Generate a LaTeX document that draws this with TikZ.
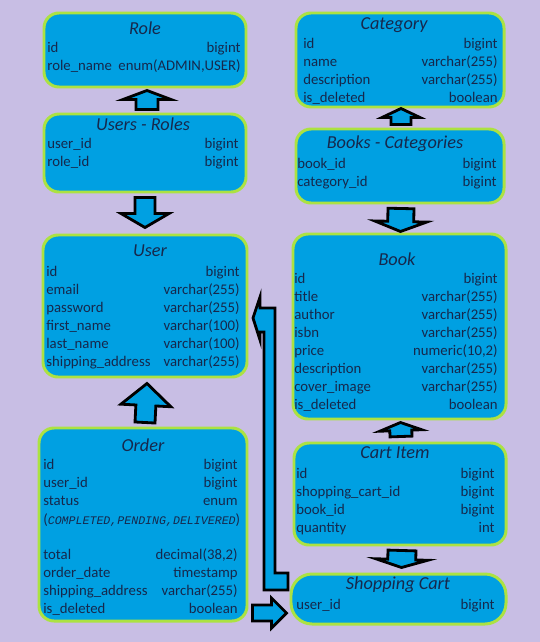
\documentclass[tikz,border=0pt]{standalone}
\usepackage{fontspec}
\setmainfont{Carlito}
\newfontfamily\enumfont{Liberation Mono}
\usetikzlibrary{calc, fit, positioning}

\definecolor{bgpurple}{RGB}{200,190,228}
\definecolor{boxblue}{RGB}{0,160,226}
\definecolor{boxrim}{RGB}{172,226,66}
\definecolor{inkblue}{RGB}{22,40,76}

\tikzset{
    tbl/.style={draw=boxrim, line width=1.7pt, fill=boxblue, rounded corners=0.3cm, inner sep=0pt},
    ttl/.style={font=\fontsize{10.4}{12}\selectfont\itshape, text=inkblue, inner sep=0pt},
    lft/.style={anchor=west, font=\fontsize{8.4}{10}\selectfont, text=inkblue, inner sep=0pt,
        text height=1.5ex, text depth=0.35ex},
    rgt/.style={lft, anchor=east},
    blk/.style={draw=black, line width=1.6pt, fill=boxblue, line join=miter}
}

% rows of a table: name, left x, right x, first y, list of field/type
\newcommand{\tblrows}[5]{%
    \foreach \l/\r [count=\i] in {#5}{
        \node[lft] (#1-l\i) at (#2,{#4+18*(\i-1)}) {\l};
        \node[rgt] (#1-r\i) at (#3,{#4+18*(\i-1)}) {\r};
    }}

% block arrow: from, to, head half width, shaft half width, head length (px)
\newcommand{\blockarrow}[5]{%
    \coordinate (hb) at ($(#2)!#5*0.02cm!(#1)$);
    \draw[blk] ($(#1)!#4*0.02cm!90:(#2)$) -- ($(hb)!#4*0.02cm!-90:(#1)$)
        -- ($(hb)!#3*0.02cm!-90:(#1)$) -- (#2) -- ($(hb)!#3*0.02cm!90:(#1)$)
        -- ($(hb)!#4*0.02cm!90:(#1)$) -- ($(#1)!#4*0.02cm!-90:(#2)$) -- cycle;}

\begin{document}
\begin{tikzpicture}[x=0.02cm, y=-0.02cm]
    \fill[bgpurple] (0,0) rectangle (540,642);
    \useasboundingbox (0,0) rectangle (540,642);

    % tables
    \node[tbl, fit={(44,13) (246,87)}] (role) {};
    \node[tbl, fit={(44,114) (246,192)}] (ur) {};
    \node[tbl, fit={(43,235) (247,377)}] (user) {};
    \node[tbl, fit={(39,428) (247,621)}] (order) {};
    \node[tbl, fit={(296,13) (504,107)}] (cat) {};
    \node[tbl, fit={(296,129) (504,203)}] (bc) {};
    \node[tbl, fit={(293,234) (506,419)}] (book) {};
    \node[tbl, fit={(294,443) (506,545)}] (ci) {};
    \node[tbl, fit={(291,574) (506,624)}, rounded corners=0.42cm] (sc) {};

    % arrows
    \coordinate (a1s) at ($(ur.north)+(2,-3)$);
    \coordinate (a1e) at ($(role.south)+(2,2)$);
    \blockarrow{a1s}{a1e}{24}{11}{9}
    \coordinate (a2s) at ($(ur.south)+(0,4)$);
    \coordinate (a2e) at ($(user.north)+(0,-6)$);
    \blockarrow{a2s}{a2e}{24}{10}{14}
    \coordinate (a3s) at ($(order.north)+(2,-4)$);
    \coordinate (a3e) at ($(user.south)+(2,5)$);
    \blockarrow{a3s}{a3e}{25}{10}{22}
    \coordinate (a4s) at ($(bc.north)+(1,-3)$);
    \coordinate (a4e) at ($(cat.south)+(1,0)$);
    \blockarrow{a4s}{a4e}{19}{10}{9}
    \coordinate (a5s) at ($(bc.south)+(1,4)$);
    \coordinate (a5e) at ($(book.north)+(1,-1)$);
    \blockarrow{a5s}{a5e}{26}{13}{10}
    \coordinate (a6s) at ($(ci.north)+(1,-5)$);
    \coordinate (a6e) at ($(book.south)+(1,2)$);
    \blockarrow{a6s}{a6e}{21}{11}{8}
    \coordinate (a7s) at ($(ci.south)+(2,4)$);
    \coordinate (a7e) at ($(sc.north)+(3,-5)$);
    \blockarrow{a7s}{a7e}{26}{14}{8}
    \coordinate (a8s) at ($(sc.west)+(-37,14)$);
    \coordinate (a8e) at ($(sc.west)+(-3,14)$);
    \blockarrow{a8s}{a8e}{15}{8}{15}
    % shopping cart back to user
    \draw[blk] (288,573) -- (275,573) -- (275,308) -- (260,308) -- (260,297)
        -- (253,318) -- (260,340) -- (260,332) -- (264,332) -- (264,590)
        -- (288,590) -- cycle;

    % Role
    \node[ttl] (role-t) at (145,28) {Role};
    \tblrows{role}{47}{241}{48}{id/bigint, role\_name/{enum(ADMIN,USER)}}
    % Users - Roles
    \node[ttl] (ur-t) at (143,124) {Users - Roles};
    \tblrows{ur}{47}{239}{144}{user\_id/bigint, role\_id/bigint}
    % User
    \node[ttl] (user-t) at (150,251) {User};
    \tblrows{user}{46}{240}{272}{id/bigint, email/{varchar(255)}, password/{varchar(255)},
        first\_name/{varchar(100)}, last\_name/{varchar(100)}, shipping\_address/{varchar(255)}}
    % Order
    \node[ttl] (order-t) at (143,445) {Order};
    \tblrows{order}{43}{238}{465}{id/bigint, user\_id/bigint, status/enum}
    \node[lft] (order-en) at (43,520)
        {({\enumfont\itshape\fontsize{6.6}{8}\selectfont COMPLETED,PENDING,DELIVERED})};
    \tblrows{ordb}{43}{238}{555}{total/{decimal(38,2)}, order\_date/timestamp,
        shipping\_address/{varchar(255)}, is\_deleted/boolean}

    % Category
    \node[ttl] (cat-t) at (394,25) {Category};
    \tblrows{cat}{303}{498}{44}{id/bigint, name/{varchar(255)}, description/{varchar(255)},
        is\_deleted/boolean}
    % Books - Categories
    \node[ttl] (bc-t) at (395,144) {Books - Categories};
    \tblrows{bc}{297}{497}{164}{book\_id/bigint, category\_id/bigint}
    % Book
    \node[ttl] (book-t) at (397,259) {Book};
    \tblrows{book}{294}{498}{279}{id/bigint, title/{varchar(255)}, author/{varchar(255)},
        isbn/{varchar(255)}, price/{numeric(10,2)}, description/{varchar(255)},
        cover\_image/{varchar(255)}, is\_deleted/boolean}
    % Cart Item
    \node[ttl] (ci-t) at (395,453) {Cart Item};
    \tblrows{ci}{296}{495}{474}{id/bigint, shopping\_cart\_id/bigint, book\_id/bigint, quantity/int}
    % Shopping Cart
    \node[ttl] (sc-t) at (398,585) {Shopping Cart};
    \tblrows{sc}{296}{495}{605}{user\_id/bigint}
\end{tikzpicture}
\end{document}
